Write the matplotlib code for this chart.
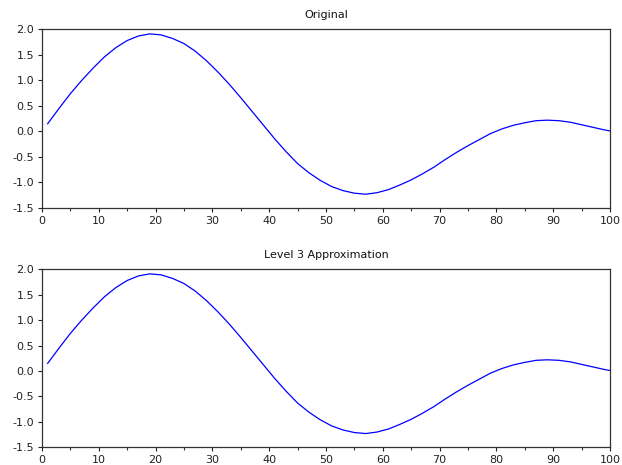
import numpy as np
import matplotlib
matplotlib.use('Agg')
import matplotlib.pyplot as plt
from matplotlib.ticker import MultipleLocator, FormatStrFormatter

# sample positions and values
x_vals = [1, 3, 5, 7, 9, 11, 13, 15, 17, 19, 21, 23, 25, 27, 29, 31, 33, 35, 37, 39,
          41, 43, 45, 47, 49, 51, 53, 55, 57, 59, 61, 63, 65, 67, 69, 71, 73, 75, 77, 79,
          81, 83, 85, 87, 89, 91, 93, 95, 97, 99, 100]
orig_vals = [0.15, 0.45, 0.74, 1.00, 1.24, 1.46, 1.64, 1.78, 1.87, 1.91, 1.89, 1.82, 1.72,
             1.57, 1.38, 1.16, 0.92, 0.66, 0.39, 0.12, -0.15, -0.40, -0.63, -0.81, -0.96,
             -1.08, -1.16, -1.21, -1.23, -1.20, -1.14, -1.05, -0.95, -0.83, -0.70, -0.55,
             -0.41, -0.28, -0.16, -0.04, 0.05, 0.12, 0.17, 0.21, 0.22, 0.21, 0.18, 0.13,
             0.08, 0.03, 0.01]
# level 3 approximation looks the same as the original at this resolution
approx_vals = [0.15, 0.45, 0.74, 1.00, 1.24, 1.46, 1.64, 1.78, 1.87, 1.91, 1.89, 1.82, 1.72,
               1.57, 1.38, 1.16, 0.92, 0.66, 0.39, 0.12, -0.15, -0.40, -0.63, -0.81, -0.96,
               -1.08, -1.16, -1.21, -1.23, -1.20, -1.14, -1.05, -0.95, -0.83, -0.70, -0.55,
               -0.41, -0.28, -0.16, -0.04, 0.05, 0.12, 0.17, 0.21, 0.22, 0.21, 0.18, 0.13,
               0.08, 0.03, 0.01]
titles = ['Original', 'Level 3 Approximation']

plt.rcParams['font.family'] = ['DejaVu Sans']
plt.rcParams['axes.unicode_minus'] = False

fig = plt.figure(figsize=(6.22, 4.65), dpi=100)
ax1 = fig.add_axes([0.0675, 0.5527, 0.9132, 0.3843])
ax2 = fig.add_axes([0.0675, 0.0381, 0.9132, 0.3828])

for ax, vals, title in zip([ax1, ax2], [orig_vals, approx_vals], titles):
    ax.plot(x_vals, vals, color='#0000ff', linewidth=0.9)
    ax.set_xlim(0, 100)
    ax.set_ylim(-1.5, 2.0)
    ax.xaxis.set_major_locator(MultipleLocator(10))
    ax.xaxis.set_minor_locator(MultipleLocator(5))
    ax.yaxis.set_major_locator(MultipleLocator(0.5))
    ax.yaxis.set_major_formatter(FormatStrFormatter('%.1f'))
    ax.tick_params(axis='both', which='major', direction='out', length=3,
                   width=0.8, pad=2.5, labelsize=8, colors='#222222')
    ax.tick_params(axis='x', which='minor', direction='out', length=2, width=0.8,
                   color='#333333')
    for s in ax.spines.values():
        s.set_color('#333333')
        s.set_linewidth(0.9)
    ax.set_title(title, fontsize=8, pad=8, color='#111111')

fig.savefig('out.png', dpi=100)
